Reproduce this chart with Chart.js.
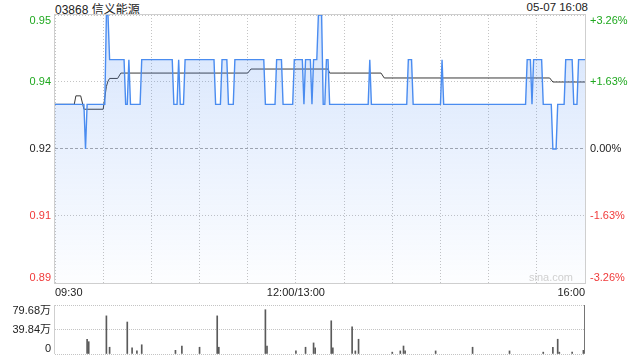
<!DOCTYPE html>
<html>
<head>
<meta charset="utf-8">
<script src="https://cdn.jsdelivr.net/npm/chart.js@4.4.0/dist/chart.umd.min.js"></script>
<style>
  body { margin: 0; background: #fff; font-family: 'Liberation Sans', Arial, 'Noto Sans CJK SC', sans-serif; }
  #wrap { position: relative; width: 640px; height: 360px; }
  canvas { position: absolute; left: 0; }
  #priceChart { top: 0; }
  #volChart { top: 295px; }
  .t { position: absolute; font-size: 12px; color: #222; white-space: nowrap; }
</style>
</head>
<body>
<div id="wrap">
  <div class="t" style="left:55px; top:0px;">03868 信义能源</div>
  <div class="t" style="right:52px; top:1px; font-size:11.5px;">05-07 16:08</div>
  <canvas id="priceChart" width="640" height="300"></canvas>
  <canvas id="volChart" width="640" height="65"></canvas>
</div>
<script>
// previous close
const prevClose = 0.92;

// price line, only the minutes where it turns
const priceTimes = ['09:30', '09:48', '09:49', '09:50', '10:01', '10:02', '10:03', '10:04', '10:13', '10:14',
  '10:15', '10:16', '10:17', '10:23', '10:24', '10:43', '10:44', '10:46', '10:47', '10:48',
  '10:50', '10:51', '11:09', '11:10', '11:13', '11:14', '11:17', '11:18', '11:21', '11:22',
  '11:40', '11:41', '11:47', '11:48', '11:51', '11:52', '11:58', '11:59', '13:04', '13:05',
  '13:06', '13:09', '13:10', '13:11', '13:13', '13:14', '13:16', '13:17', '13:18', '13:19',
  '13:20', '13:21', '13:45', '13:46', '13:47', '14:09', '14:10', '14:12', '14:13', '14:30',
  '14:31', '14:32', '15:23', '15:24', '15:26', '15:27', '15:28', '15:33', '15:34', '15:39',
  '15:40', '15:42', '15:43', '15:47', '15:48', '15:52', '15:53', '15:55', '15:56', '16:00'];
const prices = [0.93, 0.93, 0.92, 0.93, 0.93, 0.95, 0.95, 0.94, 0.94, 0.93,
  0.93, 0.94, 0.93, 0.93, 0.94, 0.94, 0.93, 0.93, 0.94, 0.93,
  0.93, 0.94, 0.94, 0.93, 0.93, 0.94, 0.94, 0.93, 0.93, 0.94,
  0.94, 0.93, 0.93, 0.94, 0.94, 0.93, 0.93, 0.94, 0.94, 0.93,
  0.94, 0.94, 0.93, 0.94, 0.94, 0.95, 0.95, 0.93, 0.93, 0.94,
  0.94, 0.93, 0.93, 0.94, 0.93, 0.93, 0.94, 0.94, 0.93, 0.93,
  0.94, 0.93, 0.93, 0.94, 0.94, 0.93, 0.94, 0.94, 0.93, 0.93,
  0.92, 0.92, 0.93, 0.93, 0.94, 0.94, 0.93, 0.93, 0.94, 0.94];

// average price line
const avgTimes = ['09:30', '09:42', '09:43', '09:46', '09:48', '10:00', '10:02', '10:03', '10:04', '10:09',
  '10:11', '11:30', '11:32', '13:20', '13:21', '13:53', '13:55', '15:38', '15:40', '16:00'];
const avgPrices = [0.930, 0.930, 0.9319, 0.9319, 0.9289, 0.9289, 0.9340, 0.9352, 0.9358, 0.9358,
  0.9370, 0.9370, 0.9379, 0.9379, 0.9370, 0.9370, 0.9359, 0.9359, 0.9350, 0.9350];

// volume in 万股
const volTimes = ['09:50', '09:51', '10:02', '10:04', '10:15', '10:18', '10:21', '10:24', '10:45', '10:49',
  '11:00', '11:11', '11:12', '11:41', '11:42', '13:00', '13:06', '13:11', '13:12', '13:22',
  '13:23', '13:35', '13:37', '13:39', '14:00', '14:05', '14:07', '14:08', '14:27', '14:50',
  '15:13', '15:34', '15:40', '15:43', '15:44', '15:52', '15:59', '16:00'];
const volumes = [24, 20, 62, 11, 52, 10, 5, 15, 6, 13,
  11, 62, 11, 72, 13, 5, 11, 18, 10, 54,
  10, 44, 5, 24, 3, 5, 13, 5, 5, 11,
  5, 3, 11, 24, 3, 3, 6, 79.68];

// axes
const gridTimes = ['09:30', '10:00', '10:30', '11:00', '11:30', '12:00/13:00', '13:30', '14:00', '14:30', '15:00', '15:30', '16:00'];
const timeLabels = ['09:30', '12:00/13:00', '16:00'];
const priceTicks = [0.89, 0.905, 0.92, 0.935, 0.95];
const priceLabels = ['0.89', '0.91', '0.92', '0.94', '0.95'];
const pctLabels = ['-3.26%', '-1.63%', '0.00%', '+1.63%', '+3.26%'];
const volTicks = [0, 39.84, 79.68];
const volLabels = ['0', '39.84万', '79.68万'];

const green = '#1fa81f';
const red = '#f03a3a';
const font = '11px "Liberation Sans", Arial, "Noto Sans CJK SC", sans-serif';

// trading minute index, lunch break removed
function toIdx(t) {
  const [h, m] = t.split('/').pop().split(':').map(Number);
  const mins = h * 60 + m;
  return mins >= 780 ? mins - 780 + 150 : mins - 570;
}

function baseline(i, n) {
  return i === 0 ? 'bottom' : i === n - 1 ? 'top' : 'middle';
}

const priceDeco = {
  id: 'priceDeco',
  beforeDatasetsDraw(chart) {
    const { ctx, chartArea: a } = chart;
    ctx.save();
    ctx.strokeStyle = '#cfcfcf';
    ctx.lineWidth = 1;
    ctx.strokeRect(a.left - 0.5, a.top - 0.5, a.width + 1, a.height + 1);
    ctx.restore();
  },
  afterDraw(chart) {
    const { ctx, chartArea: a, scales: { x, y } } = chart;
    ctx.save();
    ctx.font = font;
    priceTicks.forEach((v, i) => {
      const py = y.getPixelForValue(v);
      ctx.fillStyle = v > prevClose ? green : v < prevClose ? red : '#222';
      ctx.textBaseline = baseline(i, priceTicks.length);
      ctx.textAlign = 'right';
      ctx.fillText(priceLabels[i], a.left - 4, py);
      ctx.textAlign = 'left';
      ctx.fillText(pctLabels[i], a.right + 5, py);
    });
    ctx.fillStyle = '#222';
    ctx.textBaseline = 'middle';
    timeLabels.forEach((t, i) => {
      ctx.textAlign = i === 0 ? 'left' : i === timeLabels.length - 1 ? 'right' : 'center';
      ctx.fillText(t, x.getPixelForValue(toIdx(t)), a.bottom + 10);
    });
    ctx.fillStyle = '#d0d0d0';
    ctx.textAlign = 'right';
    ctx.textBaseline = 'bottom';
    ctx.fillText('sina.com', a.right - 12, a.bottom - 0);
    ctx.restore();
  }
};

const volDeco = {
  id: 'volDeco',
  beforeDatasetsDraw(chart) {
    const { ctx, chartArea: a } = chart;
    ctx.save();
    ctx.strokeStyle = '#cfcfcf';
    ctx.beginPath();
    ctx.moveTo(a.left - 0.5, a.top);
    ctx.lineTo(a.left - 0.5, a.bottom);
    ctx.stroke();
    ctx.restore();
  },
  afterDraw(chart) {
    const { ctx, chartArea: a, scales: { y } } = chart;
    ctx.save();
    ctx.font = font;
    ctx.fillStyle = '#222';
    ctx.textAlign = 'right';
    volTicks.forEach((v, i) => {
      ctx.textBaseline = baseline(i, volTicks.length);
      ctx.fillText(volLabels[i], a.left - 4, y.getPixelForValue(v));
    });
    ctx.restore();
  }
};

new Chart(document.getElementById('priceChart'), {
  type: 'line',
  data: {
    datasets: [
      {
        data: priceTimes.map((t, i) => ({ x: toIdx(t), y: prices[i] })),
        borderColor: '#4a8cf0',
        borderWidth: 1.4,
        fill: 'start',
        backgroundColor: (c) => {
          const a = c.chart.chartArea;
          if (!a) return 'rgba(0,0,0,0)';
          const g = c.chart.ctx.createLinearGradient(0, a.top, 0, a.bottom);
          g.addColorStop(0, 'rgba(66,133,244,0.22)');
          g.addColorStop(1, 'rgba(66,133,244,0.01)');
          return g;
        },
        pointRadius: 0,
      },
      {
        data: avgTimes.map((t, i) => ({ x: toIdx(t), y: avgPrices[i] })),
        borderColor: '#3a3a3a',
        borderWidth: 1,
        fill: false,
        pointRadius: 0,
      },
    ],
  },
  options: {
    responsive: false,
    animation: false,
    layout: { padding: { top: 15, right: 55 } },
    plugins: { legend: { display: false }, tooltip: { enabled: false } },
    scales: {
      x: {
        type: 'linear', min: 0, max: 330,
        afterBuildTicks: (s) => { s.ticks = gridTimes.map(t => ({ value: toIdx(t) })); },
        afterFit: (s) => { s.height = 17; },
        ticks: { display: false },
        grid: { color: '#c4c4c4', drawTicks: false },
        border: { display: false, dash: [1, 2] },
      },
      y: {
        min: 0.89, max: 0.95,
        afterBuildTicks: (s) => { s.ticks = priceTicks.map(v => ({ value: v })); },
        afterFit: (s) => { s.width = 55; },
        ticks: { display: false },
        grid: { color: (c) => (c.tick && c.tick.value === prevClose ? '#a8a8a8' : '#c4c4c4'), drawTicks: false },
        border: { display: false, dash: (c) => (c.tick && c.tick.value === prevClose ? [3, 2] : [1, 2]) },
      },
    },
  },
  plugins: [priceDeco],
});

new Chart(document.getElementById('volChart'), {
  type: 'bar',
  data: {
    datasets: [{
      data: volTimes.map((t, i) => ({ x: toIdx(t), y: volumes[i] })),
      backgroundColor: '#5a5a5a',
      barThickness: 1,
    }],
  },
  options: {
    responsive: false,
    animation: false,
    layout: { padding: { top: 10, right: 55, bottom: 6 } },
    plugins: { legend: { display: false }, tooltip: { enabled: false } },
    scales: {
      x: { type: 'linear', min: 0, max: 330, display: false, offset: false },
      y: {
        min: 0, max: 79.68,
        afterBuildTicks: (s) => { s.ticks = volTicks.map(v => ({ value: v })); },
        afterFit: (s) => { s.width = 55; },
        ticks: { display: false },
        grid: { color: '#c4c4c4', drawTicks: false },
        border: { display: false, dash: [1, 1] },
      },
    },
  },
  plugins: [volDeco],
});
</script>
</body>
</html>
